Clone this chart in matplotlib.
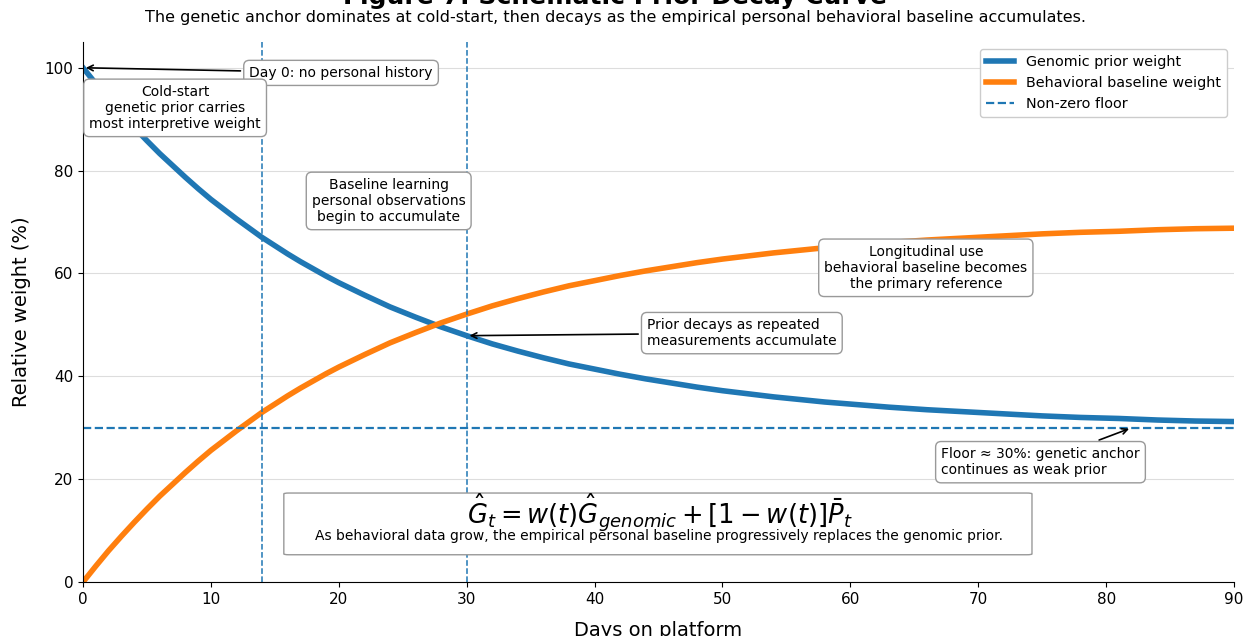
import matplotlib.pyplot as plt
from matplotlib.patches import FancyBboxPatch

days = [0, 1, 2, 3, 4, 5, 6, 7, 8, 9, 10, 11, 12, 13, 14, 15, 16, 17, 18, 19, 20,
        22, 24, 26, 28, 30, 32, 34, 36, 38, 40, 42, 44, 46, 48, 50, 52, 54, 56, 58,
        60, 63, 66, 69, 72, 75, 78, 81, 84, 87, 90]
genomic = [100.0, 96.9, 93.9, 91.1, 88.4, 85.8, 83.3, 81.0, 78.7, 76.5, 74.4, 72.5,
           70.6, 68.8, 67.0, 65.4, 63.8, 62.3, 60.9, 59.5, 58.2, 55.8, 53.5, 51.5,
           49.6, 47.9, 46.3, 44.9, 43.6, 42.4, 41.4, 40.4, 39.5, 38.7, 37.9, 37.2,
           36.6, 36.0, 35.5, 35.0, 34.6, 34.0, 33.5, 33.1, 32.7, 32.3, 32.0, 31.8,
           31.5, 31.3, 31.2]
behavioral = [0.0, 3.1, 6.1, 8.9, 11.6, 14.2, 16.7, 19.0, 21.3, 23.5, 25.6, 27.5,
              29.4, 31.2, 33.0, 34.6, 36.2, 37.7, 39.1, 40.5, 41.8, 44.2, 46.5, 48.5,
              50.4, 52.1, 53.7, 55.1, 56.4, 57.6, 58.6, 59.6, 60.5, 61.3, 62.1, 62.8,
              63.4, 64.0, 64.5, 65.0, 65.4, 66.0, 66.5, 66.9, 67.3, 67.7, 68.0, 68.2,
              68.5, 68.7, 68.8]
floor = 30
phase_days = [14, 30]

fig = plt.figure(figsize=(12.45, 6.36), dpi=100)
ax = fig.add_axes([0.0667, 0.0849, 0.9245, 0.849])

ax.plot(days, genomic, color='tab:blue', lw=4, label='Genomic prior weight')
ax.plot(days, behavioral, color='tab:orange', lw=4, label='Behavioral baseline weight')
ax.axhline(floor, color='tab:blue', ls='--', lw=1.6, label='Non-zero floor')
for d in phase_days:
    ax.axvline(d, color='tab:blue', ls='--', lw=1.1)

ax.set_xlim(0, 90)
ax.set_ylim(0, 105)
ax.set_yticks([0, 20, 40, 60, 80, 100])
ax.tick_params(labelsize=11)
ax.grid(axis='y', color='#dddddd', lw=0.8)
ax.set_axisbelow(True)
for s in ['top', 'right']:
    ax.spines[s].set_visible(False)
ax.set_xlabel('Days on platform', fontsize=14, labelpad=10)
ax.set_ylabel('Relative weight (%)', fontsize=14, labelpad=10)

box = dict(boxstyle='round,pad=0.4', fc='white', ec='#999999', lw=1)
arrow = dict(arrowstyle='->', color='black', lw=1.2)

ax.annotate('Day 0: no personal history', xy=(0, 100), xytext=(13.0, 99),
            fontsize=10, ha='left', va='center', bbox=box, arrowprops=arrow)
ax.text(7.2, 92.2, 'Cold-start\ngenetic prior carries\nmost interpretive weight',
        fontsize=10, ha='center', va='center', bbox=box)
ax.text(23.9, 74.1, 'Baseline learning\npersonal observations\nbegin to accumulate',
        fontsize=10, ha='center', va='center', bbox=box)
ax.text(65.9, 61.1, 'Longitudinal use\nbehavioral baseline becomes\nthe primary reference',
        fontsize=10, ha='center', va='center', bbox=box)
ax.annotate('Prior decays as repeated\nmeasurements accumulate', xy=(30, 47.9),
            xytext=(44.1, 48.4), fontsize=10, ha='left', va='center', bbox=box,
            arrowprops=arrow)
ax.annotate('Floor \u2248 30%: genetic anchor\ncontinues as weak prior', xy=(82, 30),
            xytext=(67.1, 23.3), fontsize=10, ha='left', va='center', bbox=box,
            arrowprops=arrow)

ax.add_patch(FancyBboxPatch((15.7, 5.3), 58.5, 12.0, boxstyle='round,pad=0,rounding_size=0.4',
                            fc='white', ec='#999999', lw=1, zorder=4, mutation_aspect=0.4))
ax.text(45.1, 13.4, r'$\hat{G}_t = w(t)\hat{G}_{genomic} + [1 - w(t)]\bar{P}_t$',
        fontsize=18.5, ha='center', va='center', zorder=5)
ax.text(45.0, 8.9, 'As behavioral data grow, the empirical personal baseline '
        'progressively replaces the genomic prior.', fontsize=10,
        ha='center', va='center', zorder=5)

ax.legend(loc='upper right', fontsize=10.4, framealpha=1)

fig.text(0.494, 0.994, 'Figure 7: Schematic Prior Decay Curve', fontsize=18,
         fontweight='bold', ha='center', va='baseline')
fig.text(0.494, 0.973, 'The genetic anchor dominates at cold-start, then decays as the '
         'empirical personal behavioral baseline accumulates.', fontsize=11.5,
         ha='center', va='center')

fig.savefig('out.png', dpi=100)
